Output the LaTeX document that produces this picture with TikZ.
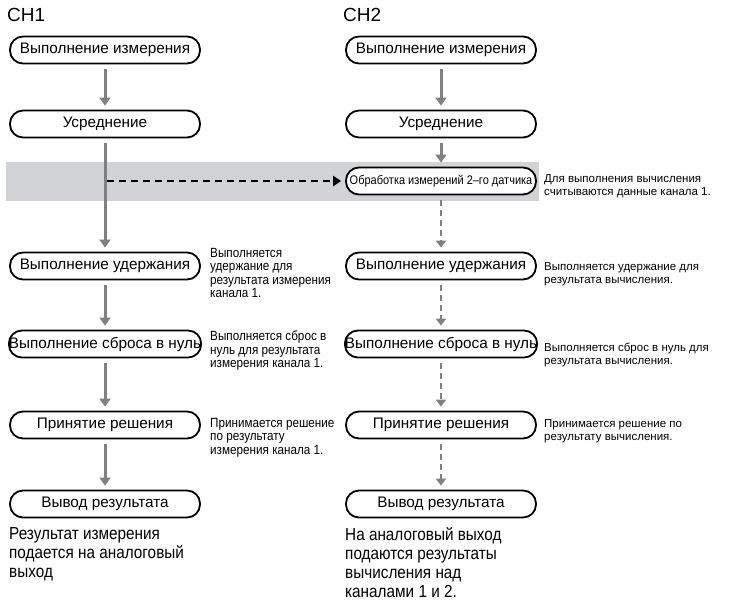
\documentclass[tikz,border=0pt]{standalone}
\usepackage{fontspec}
\setmainfont{Liberation Sans}
\newfontfamily\narrowfont{Liberation Sans}[FakeStretch=0.88]
\usetikzlibrary{arrows.meta}

\definecolor{bandgray}{RGB}{210,211,213}
\definecolor{arrowgray}{RGB}{128,128,128}

\tikzset{
  stepbox/.style={draw, line width=1.8pt, fill=white, rounded corners=13pt,
    minimum width=190pt, minimum height=27pt, inner sep=0pt,
    font=\fontsize{15.3}{18}\selectfont},
  smallbox/.style={stepbox, font=\narrowfont\fontsize{12.5}{15}\selectfont},
  grayarrow/.style={draw=arrowgray, line width=3pt,
    -{Triangle[length=8pt,width=11pt]}, arrowgray,
    shorten <=5pt, shorten >=4pt},
  dasharrow/.style={draw=arrowgray, line width=2.2pt, dash pattern=on 6pt off 4pt,
    -{Triangle[length=7pt,width=10pt]}, arrowgray,
    shorten <=5pt, shorten >=4pt},
  linkarrow/.style={draw=black, line width=2.2pt, dash pattern=on 7pt off 5pt,
    -{Triangle[length=8pt,width=10pt]}, shorten >=4pt},
  notea/.style={anchor=north west, inner sep=0pt, align=left,
    font=\narrowfont\fontsize{13.3}{13.5}\selectfont},
  noteb/.style={anchor=north west, inner sep=0pt, align=left,
    font=\fontsize{11.5}{13}\selectfont},
  notec/.style={anchor=north west, inner sep=0pt, align=left,
    font=\narrowfont\fontsize{17.4}{19.2}\selectfont},
  chlabel/.style={anchor=west, inner sep=0pt, font=\fontsize{19}{22}\selectfont}
}

\begin{document}
\begin{tikzpicture}[x=1pt,y=-1pt]
  \useasboundingbox (0,0) rectangle (739,602);

  % band behind the second sensor step
  \fill[bandgray] (6,162) rectangle (539,201);

  \node[chlabel] (ch1) at (7,15) {CH1};
  \node[chlabel] (ch2) at (343,15) {CH2};

  % channel 1
  \node[stepbox] (m1) at (105,50) {Выполнение измерения};
  \node[stepbox] (a1) at (105,124) {Усреднение};
  \node[stepbox] (h1) at (105,266) {Выполнение удержания};
  \node[stepbox] (z1) at (105,344) {Выполнение сброса в нуль};
  \node[stepbox] (j1) at (105,425) {Принятие решения};
  \node[stepbox] (o1) at (105,504) {Вывод результата};

  % channel 2
  \node[stepbox] (m2) at (441,50) {Выполнение измерения};
  \node[stepbox] (a2) at (441,124) {Усреднение};
  \node[smallbox] (p2) at (441,181) {Обработка измерений 2–го датчика};
  \node[stepbox] (h2) at (441,266) {Выполнение удержания};
  \node[stepbox] (z2) at (441,344) {Выполнение сброса в нуль};
  \node[stepbox] (j2) at (441,425) {Принятие решения};
  \node[stepbox] (o2) at (441,504) {Вывод результата};

  \draw[grayarrow] (m1) -- (a1);
  \draw[grayarrow] (a1) -- (h1);
  \draw[grayarrow] (h1) -- (z1);
  \draw[grayarrow] (z1) -- (j1);
  \draw[grayarrow] (j1) -- (o1);

  \draw[grayarrow] (m2) -- (a2);
  \draw[grayarrow] (a2) -- (p2);
  \draw[dasharrow] (p2) -- (h2);
  \draw[dasharrow] (h2) -- (z2);
  \draw[dasharrow] (z2) -- (j2);
  \draw[dasharrow] (j2) -- (o2);

  % data of channel 1 read by channel 2
  \coordinate (lk) at (107,181);
  \draw[linkarrow] (lk) -- (p2.west);

  % notes
  \node[notea] (nh1) at (210,248) {Выполняется\\удержание для\\результата измерения\\канала 1.};
  \node[notea] (nz1) at (210,331) {Выполняется сброс в\\нуль для результата\\измерения канала 1.};
  \node[notea] (nj1) at (210,418) {Принимается решение\\по результату\\измерения канала 1.};

  \node[noteb] (np2) at (544,174) {Для выполнения вычисления\\считываются данные канала 1.};
  \node[noteb] (nh2) at (544,262) {Выполняется удержание для\\результата вычисления.};
  \node[noteb] (nz2) at (544,343) {Выполняется сброс в нуль для\\результата вычисления.};
  \node[noteb] (nj2) at (544,419) {Принимается решение по\\результату вычисления.};

  \node[notec] (no1) at (9,527) {Результат измерения\\подается на аналоговый\\выход};
  \node[notec] (no2) at (345,527) {На аналоговый выход\\подаются результаты\\вычисления над\\каналами 1 и 2.};
\end{tikzpicture}
\end{document}
